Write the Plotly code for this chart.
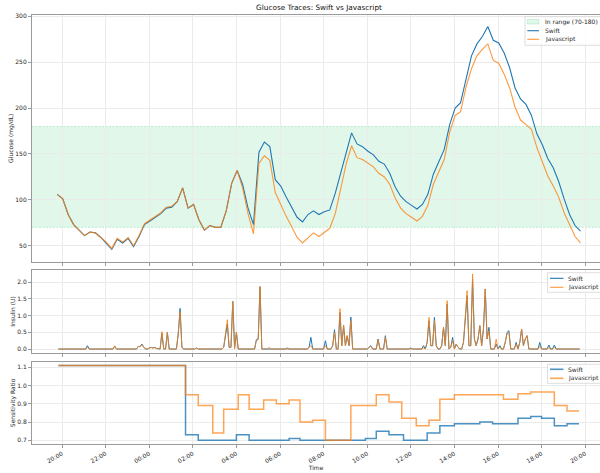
import pandas as pd
import plotly.graph_objects as go

# ---------------- data ----------------
TITLE = "Glucose Traces: Swift vs Javascript"
SERIES = ["Swift", "Javascript"]
RANGE_LOW, RANGE_HIGH = 70, 180
RANGE_LABEL = "In range (70-180)"
SENS_REF = 1.0

glucose_start = "2024-01-01 19:47"
glucose_step = "15min"
glucose_swift = [106, 101, 84, 73, 67, 61, 65, 64, 59, 53, 46, 57, 53, 58, 49, 60,
                 73, 77, 81, 85, 91, 92, 98, 113, 91, 95, 78, 67, 72, 70, 70, 88,
                 118, 132, 117, 91, 73, 152, 163, 158, 122, 115, 103, 92, 81, 76, 84, 88,
                 84, 87, 89, 107, 130, 151, 173, 161, 158, 153, 149, 142, 139, 129, 114, 104,
                 98, 94, 90, 95, 106, 128, 142, 155, 182, 200, 206, 232, 257, 270, 278, 289,
                 274, 271, 260, 244, 222, 210, 204, 192, 172, 160, 145, 135, 120, 101, 84, 72, 66]
glucose_js = [106, 101, 84, 73, 67, 61, 65, 64, 59, 54, 47, 58, 54, 59, 50, 61,
              74, 78, 82, 86, 92, 93, 98, 113, 91, 95, 78, 67, 72, 70, 70, 88,
              118, 132, 113, 85, 63, 140, 148, 143, 108, 94, 82, 71, 59, 53, 58, 64,
              60, 65, 69, 85, 113, 139, 159, 146, 144, 140, 136, 129, 125, 117, 102, 91,
              85, 81, 77, 82, 94, 117, 131, 144, 174, 192, 196, 223, 243, 257, 264, 270,
              252, 249, 237, 222, 201, 187, 182, 177, 157, 141, 126, 115, 103, 86, 73, 60, 53]

insulin_start = "2024-01-01 19:50"
insulin_step = "5min"
insulin_swift = (
    [0, 0, 0, 0, 0, 0, 0, 0, 0, 0, 0, 0] +
    [0, 0, 0, 0, 0.10, 0, 0, 0, 0, 0, 0, 0] +
    [0, 0, 0, 0, 0, 0, 0, 0.08, 0, 0, 0, 0] +
    [0, 0, 0, 0, 0, 0, 0, 0, 0.08, 0.07, 0.15, 0.05] +
    [0, 0, 0.03, 0.05, 0.03, 0.05, 0.02, 0, 0, 0.48, 0, 0] +
    [0.50, 0, 0, 0, 0, 0, 0.45, 1.22, 0.05, 0, 0, 0] +
    [0, 0, 0, 0, 0.03, 0, 0, 0, 0, 0, 0, 0] +
    [0, 0, 0, 0, 0, 0, 0, 0.05, 0.40, 0.75, 0.05, 0.05] +
    [1.43, 0.02, 0.50, 0, 0, 0, 0, 0, 0, 0, 0, 0] +
    [0, 0.28, 0.30, 1.87, 0, 0, 0, 0, 0, 0, 0, 0] +
    [0, 0, 0, 0, 0, 0, 0.03, 0, 0, 0, 0, 0] +
    [0, 0, 0, 0, 0, 0, 0.05, 0.35, 0, 0, 0, 0] +
    [0, 0, 0, 0.25, 0, 0, 0, 0.10, 0.58, 0, 0, 1.10] +
    [0.10, 0.71, 0.10, 0.40, 0.10, 0.96, 0, 0, 0, 0, 0, 0] +
    [0, 0, 0, 0.05, 0.10, 0, 0, 0, 0.30, 0, 0, 0] +
    [0.40, 0, 0, 0, 0, 0, 0, 0, 0, 0, 0, 0] +
    [0, 0, 0.03, 0, 0, 0, 0, 0, 0, 0.10, 0, 0.20] +
    [0.85, 0.10, 0.10, 0.95, 0.10, 0, 0, 0.10, 0.65, 0.10, 1.35, 0] +
    [0.05, 0.35, 0, 0.15, 0.05, 0, 0, 0.20, 0.80, 1.60, 0.10, 0.10] +
    [2.10, 0.30, 0.10, 0.30, 0.70, 0.10, 0.60, 1.80, 0.30, 0.65, 0, 0] +
    [0, 0.15, 0, 0.10, 0, 0, 0.20, 0.50, 0.55, 0, 0, 0] +
    [0.20, 0, 0.20, 0.60, 0.10, 0.30, 0.40, 0, 0, 0, 0, 0] +
    [0, 0.20, 0, 0, 0, 0, 0.12, 0, 0, 0.12, 0, 0] +
    [0, 0, 0, 0, 0, 0, 0, 0, 0, 0, 0, 0]
)
insulin_js = (
    [0, 0, 0, 0, 0, 0, 0, 0, 0, 0, 0, 0] +
    [0, 0, 0, 0, 0.05, 0, 0, 0, 0, 0, 0, 0] +
    [0, 0, 0, 0, 0, 0, 0, 0.10, 0, 0, 0, 0] +
    [0, 0, 0, 0, 0, 0, 0, 0, 0.08, 0.07, 0.13, 0.05] +
    [0, 0, 0.03, 0.05, 0.03, 0.04, 0.02, 0, 0, 0.52, 0, 0] +
    [0.50, 0, 0, 0, 0, 0, 0.50, 1.12, 0.05, 0, 0, 0] +
    [0, 0, 0, 0, 0.03, 0, 0, 0, 0, 0, 0, 0] +
    [0, 0, 0, 0, 0, 0, 0, 0.05, 0.45, 0.88, 0.05, 0.05] +
    [1.43, 0.02, 0.50, 0, 0, 0, 0, 0, 0, 0, 0, 0] +
    [0, 0.25, 0.28, 1.87, 0, 0, 0, 0, 0.05, 0, 0, 0] +
    [0, 0, 0, 0, 0, 0, 0, 0, 0, 0, 0, 0] +
    [0, 0, 0, 0, 0, 0, 0.05, 0.10, 0, 0, 0, 0] +
    [0, 0, 0, 0.10, 0, 0, 0, 0.10, 0.50, 0, 0, 1.21] +
    [0.10, 0.71, 0.10, 0.40, 0.10, 0.85, 0, 0, 0, 0, 0, 0] +
    [0, 0, 0, 0.05, 0.08, 0, 0, 0, 0.28, 0, 0, 0] +
    [0.35, 0, 0, 0, 0, 0, 0, 0, 0, 0, 0, 0] +
    [0, 0, 0, 0, 0, 0, 0, 0, 0, 0.03, 0, 0.20] +
    [0.95, 0.10, 0.10, 0.85, 0.10, 0, 0, 0.10, 0.65, 0.10, 1.45, 0] +
    [0.05, 0.25, 0, 0.15, 0.05, 0, 0, 0.20, 0.85, 1.75, 0.10, 0.10] +
    [2.25, 0.30, 0.10, 0.30, 0.70, 0.10, 0.60, 1.80, 0.30, 0.55, 0, 0] +
    [0, 0.30, 0, 0.05, 0, 0, 0.20, 0.45, 0.50, 0, 0, 0] +
    [0.15, 0, 0.20, 0.60, 0.10, 0.30, 0.40, 0, 0, 0, 0, 0] +
    [0, 0.08, 0, 0, 0, 0, 0.03, 0, 0, 0.05, 0, 0] +
    [0, 0, 0, 0, 0, 0, 0, 0, 0, 0, 0, 0]
)

# sensitivity ratio: value holds from each time until the next one
sens_swift_times = ["19:50", "01:40", "02:15", "04:00", "04:35", "06:25", "06:55", "09:55",
                    "10:25", "11:00", "11:40", "12:45", "13:20", "14:00", "15:10", "15:45",
                    "16:55", "17:30", "18:00", "18:35", "19:10", "19:43"]
sens_swift = [1.11, 0.73, 0.70, 0.73, 0.70, 0.71, 0.70, 0.71,
              0.75, 0.73, 0.70, 0.74, 0.78, 0.79, 0.80, 0.79,
              0.82, 0.83, 0.82, 0.78, 0.79, 0.79]
sens_js_times = ["19:50", "01:40", "02:15", "02:55", "03:25", "04:05", "04:35", "05:15",
                 "05:50", "06:25", "06:55", "07:30", "08:05", "09:15", "10:25", "11:00",
                 "11:35", "12:15", "12:50", "13:20", "14:00", "16:15", "16:55", "17:30",
                 "18:35", "19:10", "19:43"]
sens_js = [1.11, 0.95, 0.89, 0.74, 0.87, 0.95, 0.87, 0.92,
           0.90, 0.92, 0.80, 0.81, 0.70, 0.89, 0.95, 0.91,
           0.82, 0.78, 0.81, 0.925, 0.95, 0.925, 0.955, 0.965,
           0.89, 0.86, 0.86]

DAY1 = "2024-01-01"
X_RANGE = ["2024-01-01 18:37:26", "2024-01-02 20:40:44"]
TICK0 = "2024-01-01 20:00"

# ---------------- helpers ----------------
def clock_to_ts(times, day=DAY1):
    out, d, prev = [], pd.Timestamp(day), None
    for t in times:
        if prev is not None and t < prev:
            d = d + pd.Timedelta(days=1)
        prev = t
        out.append(d + pd.Timedelta(hours=int(t[:2]), minutes=int(t[3:])))
    return out

g_t = pd.date_range(glucose_start, periods=len(glucose_swift), freq=glucose_step)
i_t = pd.date_range(insulin_start, periods=len(insulin_swift), freq=insulin_step)
s_t_swift = clock_to_ts(sens_swift_times)
s_t_js = clock_to_ts(sens_js_times)

BLUE = "#1f77b4"
ORANGE = "rgba(255,127,14,0.8)"
BLUE_S = "rgba(31,119,180,0.8)"
ORANGE_S = "rgba(255,127,14,0.7)"
FONT = "DejaVu Sans"
TXT = "#262626"

W, H = 600, 473
L, R, T, B = 32, 0, 15, 29
PW, PH = W - L - R, H - T - B

def px(X, Y):
    return (X - L) / PW, (H - B - Y) / PH

fig = go.Figure()
fig.add_trace(go.Scatter(x=g_t, y=glucose_swift, mode="lines", name=SERIES[0],
                         line=dict(color=BLUE, width=1.1), xaxis="x", yaxis="y"))
fig.add_trace(go.Scatter(x=g_t, y=glucose_js, mode="lines", name=SERIES[1],
                         line=dict(color=ORANGE, width=1.1), xaxis="x", yaxis="y"))
fig.add_trace(go.Scatter(x=i_t, y=insulin_swift, mode="lines", name=SERIES[0],
                         line=dict(color=BLUE, width=1.0), xaxis="x2", yaxis="y2"))
fig.add_trace(go.Scatter(x=i_t, y=insulin_js, mode="lines", name=SERIES[1],
                         line=dict(color=ORANGE, width=1.0), xaxis="x2", yaxis="y2"))
fig.add_trace(go.Scatter(x=s_t_swift, y=sens_swift, mode="lines", name=SERIES[0],
                         line=dict(color=BLUE_S, width=1.5, shape="hv"), xaxis="x3", yaxis="y3"))
fig.add_trace(go.Scatter(x=s_t_js, y=sens_js, mode="lines", name=SERIES[1],
                         line=dict(color=ORANGE_S, width=1.5, shape="hv"), xaxis="x3", yaxis="y3"))

axis_common = dict(showline=True, linecolor="#9a9a9a", linewidth=1.1,
                   ticks="outside", ticklen=3, tickwidth=0.8, tickcolor="#9a9a9a",
                   showgrid=True, gridcolor="#ebebeb", gridwidth=0.8, zeroline=False,
                   tickfont=dict(family=FONT, size=6, color=TXT))
xax = dict(axis_common, range=X_RANGE, type="date", tick0=TICK0, dtick=2 * 3600 * 1000,
           tickformat="%H:%M", mirror=True)
ytitle = dict(font=dict(family=FONT, size=6, color=TXT), standoff=1)

d_g = [(H - B - 261.5) / PH, 1.0]
d_i = [(H - B - 352.7) / PH, (H - B - 270.3) / PH]
d_s = [0.0, (H - B - 361.7) / PH]

fig.update_layout(
    width=W, height=H,
    margin=dict(l=L, r=R, t=T, b=B, autoexpand=False),
    paper_bgcolor="white", plot_bgcolor="white",
    showlegend=False,
    font=dict(family=FONT, size=6, color=TXT),
    title=dict(text=TITLE, x=319 / W, xref="container", xanchor="center",
               y=1 - 7.6 / H, yref="container", yanchor="middle",
               font=dict(family=FONT, size=7.3, color="#111")),
    xaxis=dict(xax, anchor="y", showticklabels=False),
    xaxis2=dict(xax, anchor="y2", showticklabels=False),
    xaxis3=dict(xax, anchor="y3", tickangle=-30,
                title=dict(text="Time", font=dict(family=FONT, size=6, color=TXT), standoff=2)),
    yaxis=dict(axis_common, domain=d_g, anchor="x", range=[32.8, 301.5], dtick=50,
               title=dict(ytitle, text="Glucose (mg/dL)")),
    yaxis2=dict(axis_common, domain=d_i, anchor="x2", range=[-0.11, 2.36], dtick=0.5,
                tickformat=".1f", title=dict(ytitle, text="Insulin (U)")),
    yaxis3=dict(axis_common, domain=d_s, anchor="x3", range=[0.6795, 1.1305], dtick=0.1,
                tickformat=".1f", title=dict(ytitle, text="Sensitivity Ratio")),
)

shapes = [
    dict(type="rect", xref="x domain", x0=0, x1=1, yref="y", y0=RANGE_LOW, y1=RANGE_HIGH,
         fillcolor="rgba(46,204,113,0.15)", line=dict(width=0), layer="below"),
    dict(type="line", xref="x domain", x0=0, x1=1, yref="y", y0=RANGE_LOW, y1=RANGE_LOW,
         line=dict(color="rgba(46,204,113,0.5)", width=0.6, dash="2px,1.5px"), layer="below"),
    dict(type="line", xref="x domain", x0=0, x1=1, yref="y", y0=RANGE_HIGH, y1=RANGE_HIGH,
         line=dict(color="rgba(46,204,113,0.5)", width=0.6, dash="2px,1.5px"), layer="below"),
    dict(type="line", xref="x3 domain", x0=0, x1=1, yref="y3", y0=SENS_REF, y1=SENS_REF,
         line=dict(color="#b8b8b8", width=0.8, dash="2px,1.5px"), layer="below"),
]
annotations = []

def legend_box(x0, y0, y1):
    a, b = px(x0, y0)
    c, d = px(W + 40, y1)
    shapes.append(dict(type="rect", xref="paper", yref="paper", x0=a, x1=c, y0=d, y1=b,
                       fillcolor="rgba(255,255,255,0.85)", line=dict(color="#d5d5d5", width=0.8),
                       layer="above"))

def legend_line(x0, x1, y, color, width):
    a, b = px(x0, y)
    c, _ = px(x1, y)
    shapes.append(dict(type="line", xref="paper", yref="paper", x0=a, x1=c, y0=b, y1=b,
                       line=dict(color=color, width=width), layer="above"))

def legend_text(x, y, text):
    a, b = px(x, y)
    annotations.append(dict(xref="paper", yref="paper", x=a, y=b, text=text, showarrow=False,
                            xanchor="left", yanchor="middle", borderpad=0,
                            font=dict(family=FONT, size=6, color=TXT)))

# glucose legend
legend_box(525.0, 16.7, 45.3)
pa, pb = px(527.3, 19.4)
pc, pd_ = px(539.0, 24.0)
shapes.append(dict(type="rect", xref="paper", yref="paper", x0=pa, x1=pc, y0=pd_, y1=pb,
                   fillcolor="rgba(46,204,113,0.15)",
                   line=dict(color="rgba(46,204,113,0.35)", width=0.6), layer="above"))
legend_text(543.5, 21.7, RANGE_LABEL)
legend_line(527.3, 539.0, 30.7, BLUE, 1.1)
legend_text(543.5, 30.7, SERIES[0])
legend_line(527.3, 539.0, 39.3, ORANGE, 1.1)
legend_text(543.5, 39.3, SERIES[1])

# insulin legend
legend_box(547.5, 272.7, 292.3)
legend_line(550.0, 563.4, 278.3, BLUE, 1.1)
legend_text(566.5, 278.3, SERIES[0])
legend_line(550.0, 563.4, 287.3, ORANGE, 1.1)
legend_text(566.5, 287.3, SERIES[1])

# sensitivity legend
legend_box(547.5, 364.3, 383.3)
legend_line(550.0, 563.4, 369.3, BLUE_S, 1.6)
legend_text(566.5, 369.3, SERIES[0])
legend_line(550.0, 563.4, 378.3, ORANGE_S, 1.6)
legend_text(566.5, 378.3, SERIES[1])

fig.update_layout(shapes=shapes, annotations=annotations)

fig.write_html("out.html", config={"displayModeBar": False},
               post_script="document.body.style.margin='0';document.body.style.overflow='hidden';")
